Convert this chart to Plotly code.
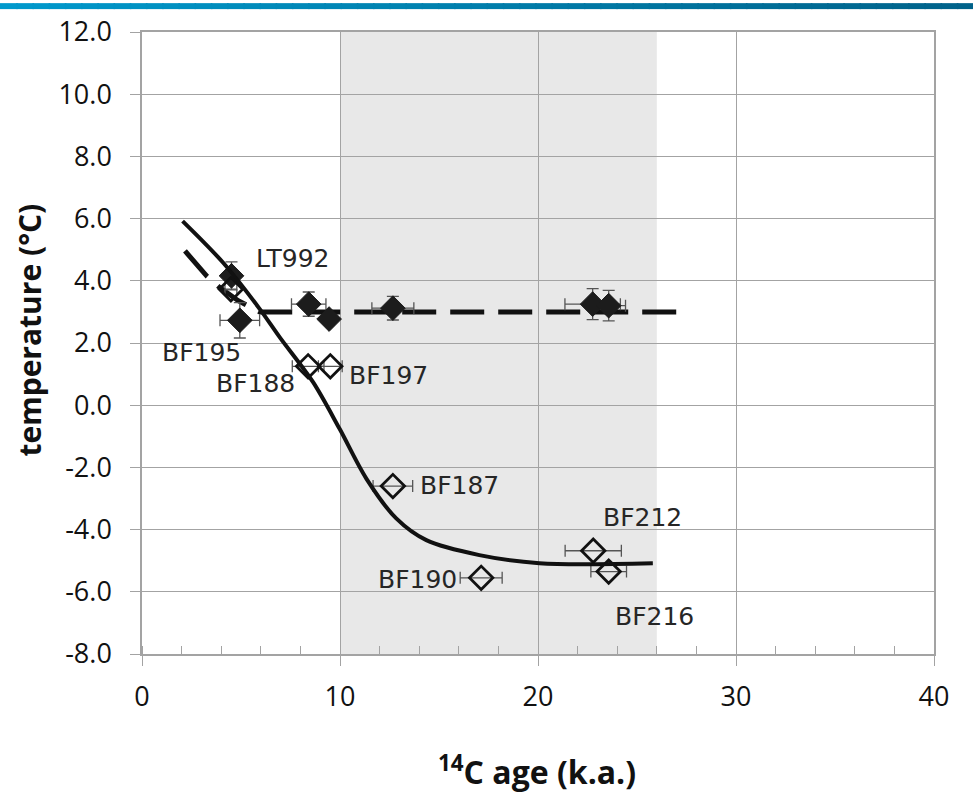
import plotly.graph_objects as go

# --- data -------------------------------------------------------------
# filled diamonds (with 1-sigma error bars)
FILLED_AGE = [4.52, 4.94, 8.42, 9.45, 12.67, 22.76, 23.57]
FILLED_TEMP = [4.16, 2.73, 3.25, 2.77, 3.12, 3.25, 3.20]
FILLED_AGE_ERR = [0.0, 1.0, 0.87, 0.0, 1.06, 1.40, 0.85]
FILLED_TEMP_ERR = [0.45, 0.57, 0.39, 0.0, 0.38, 0.50, 0.49]

# open diamonds
OPEN_AGE = [4.49, 8.39, 9.51, 12.67, 17.13, 22.79, 23.57]
OPEN_TEMP = [3.73, 1.25, 1.25, -2.60, -5.55, -4.68, -5.35]
OPEN_AGE_ERR = [0.30, 0.80, 0.60, 1.00, 1.06, 1.42, 0.90]

# smooth trend through the open-diamond samples
TREND_AGE = [2.05, 4.1, 5.95, 6.96, 8.64, 9.98, 11.33, 12.84, 14.36, 17.04, 20.07, 25.8]
TREND_TEMP = [5.92, 4.58, 3.09, 2.18, 0.74, -0.76, -2.36, -3.64, -4.34, -4.82, -5.08, -5.08]

# dashed trend for the filled diamonds
DASH_AGE = [2.17, 3.26, 3.93, 4.86, 5.95, 7.6, 27.1]
DASH_TEMP = [4.96, 4.16, 3.78, 3.36, 3.0, 3.0, 3.0]

# sample labels and where they sit
LABELS = ["LT992", "BF195", "BF188", "BF197", "BF187", "BF212", "BF190", "BF216"]
LABEL_AGE = [7.6, 3.03, 5.75, 12.46, 16.04, 25.3, 13.92, 25.87]
LABEL_TEMP = [4.71, 1.70, 0.70, 0.95, -2.57, -3.62, -5.61, -6.80]

# grey period band
SHADE_START, SHADE_END = 10, 26

X_TICKS = [0, 10, 20, 30, 40]
Y_TICKS = [12, 10, 8, 6, 4, 2, 0, -2, -4, -6, -8]

# --- figure -----------------------------------------------------------
W, H = 973, 804
ML, MR, MT, MB = 142, 39, 29, 150
PW, PH = W - ML - MR, H - MT - MB

fig = go.Figure()

fig.add_trace(go.Scatter(
    x=DASH_AGE, y=DASH_TEMP, mode="lines",
    line=dict(color="#111111", width=5, dash="34px,14px"),
    hoverinfo="skip", showlegend=False))

err_style = dict(color="#555555", thickness=1.3, width=6)

fig.add_trace(go.Scatter(
    x=FILLED_AGE, y=FILLED_TEMP, mode="markers",
    marker=dict(symbol="diamond", size=19, color="#1c1c1c",
                line=dict(color="#1c1c1c", width=1)),
    error_x=dict(type="data", array=FILLED_AGE_ERR, visible=True, **err_style),
    error_y=dict(type="data", array=FILLED_TEMP_ERR, visible=True, **err_style),
    showlegend=False))

fig.add_trace(go.Scatter(
    x=OPEN_AGE, y=OPEN_TEMP, mode="markers",
    marker=dict(symbol="diamond-open", size=18, color="#111111",
                line=dict(color="#111111", width=2.8)),
    error_x=dict(type="data", array=OPEN_AGE_ERR, visible=True, **err_style),
    showlegend=False))

fig.add_trace(go.Scatter(
    x=TREND_AGE, y=TREND_TEMP, mode="lines",
    line=dict(color="#111111", width=4, shape="spline", smoothing=0.9),
    hoverinfo="skip", showlegend=False))

for txt, ax_, ay_ in zip(LABELS, LABEL_AGE, LABEL_TEMP):
    fig.add_annotation(x=ax_, y=ay_, text=txt, showarrow=False,
                       xanchor="center", yanchor="middle",
                       font=dict(family="DejaVu Sans, Verdana", size=25, color="#262626"))

# shaded band behind the grid
fig.add_shape(type="rect", xref="x", yref="paper", x0=SHADE_START, x1=SHADE_END,
              y0=0, y1=1, fillcolor="#e8e8e8", line=dict(width=0), layer="below")

# header strip across the top of the page (blue gradient)
N = 60
c0 = (0, 153, 204)
c1 = (0, 98, 138)
for i in range(N):
    t = i / (N - 1)
    col = "rgb(%d,%d,%d)" % tuple(round(a + (b - a) * t) for a, b in zip(c0, c1))
    fig.add_shape(type="rect", xref="paper", yref="paper",
                  x0=(W * i / N - ML) / PW, x1=(W * (i + 1) / N - ML) / PW + 0.002,
                  y0=1 + (MT - 6) / PH, y1=1 + MT / PH,
                  fillcolor=col, line=dict(width=0), layer="above")

# axis titles
fig.add_annotation(xref="paper", yref="paper", x=0, y=(654 - 329) / PH,
                   xshift=30 - ML, text="temperature (°C)", textangle=-90,
                   showarrow=False, xanchor="center", yanchor="middle",
                   font=dict(family="Open Sans", size=30, color="#111111", weight="bold"))
fig.add_annotation(xref="paper", yref="paper", x=(537 - ML) / PW, y=0,
                   yshift=-(770 - 654), text="<sup>14</sup>C age (k.a.)",
                   showarrow=False, xanchor="center", yanchor="middle",
                   font=dict(family="Liberation Sans Narrow, Open Sans", size=32,
                             color="#111111", weight="bold"))

grid_col = "#a3a3a3"
fig.update_xaxes(range=[0, 40], tickvals=X_TICKS, ticktext=[str(v) for v in X_TICKS],
                 showgrid=True, gridcolor=grid_col, gridwidth=1.2,
                 showline=True, linecolor=grid_col, linewidth=1.5, mirror=True,
                 ticks="outside", ticklen=10, tickcolor=grid_col, tickwidth=1.2,
                 minor=dict(dtick=2, ticks="inside", ticklen=8, tickcolor=grid_col,
                            tickwidth=1.2, showgrid=False),
                 tickfont=dict(family="Open Sans", size=27, color="#111111"),
                 ticklabelstandoff=8, zeroline=False, fixedrange=True)
fig.update_yaxes(range=[-8, 12], tickvals=Y_TICKS, ticktext=["%.1f" % v for v in Y_TICKS],
                 showgrid=True, gridcolor=grid_col, gridwidth=1.2,
                 showline=True, linecolor=grid_col, linewidth=1.5, mirror=True,
                 ticks="outside", ticklen=10, tickcolor=grid_col, tickwidth=1.2,
                 tickfont=dict(family="Open Sans", size=27, color="#111111"),
                 ticklabelstandoff=13, zeroline=False, fixedrange=True)

fig.update_layout(width=W, height=H, margin=dict(l=ML, r=MR, t=MT, b=MB),
                  paper_bgcolor="white", plot_bgcolor="white", showlegend=False)

fig.write_html("out.html")
